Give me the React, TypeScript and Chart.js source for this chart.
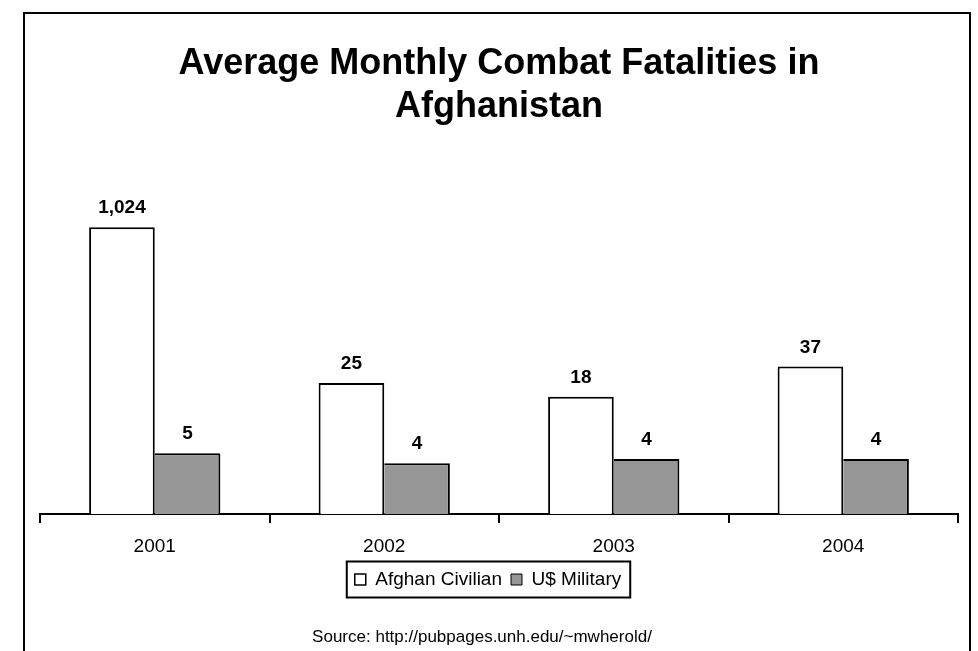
import React, { useEffect, useRef } from 'react';
import { Chart, registerables } from 'chart.js';

Chart.register(...registerables);

const categories = ['2001', '2002', '2003', '2004'];
const civilianValues = [1024, 25, 18, 37];
const militaryValues = [4.67, 3.68, 4.08, 4.08];
const seriesNames = ['Afghan Civilian', 'U$ Military'];
const titleLines = ['Average Monthly Combat Fatalities in', 'Afghanistan'];
const sourceText = 'Source: http://pubpages.unh.edu/~mwherold/';

const FONT = "Arial, 'Liberation Sans', Helvetica, sans-serif";

const valueLabels = {
  id: 'valueLabels',
  afterDatasetsDraw(chart: any) {
    const ctx = chart.ctx;
    ctx.save();
    ctx.font = `bold 19px ${FONT}`;
    ctx.fillStyle = '#000';
    ctx.textAlign = 'center';
    ctx.textBaseline = 'alphabetic';
    chart.data.datasets.forEach((ds: any, di: number) => {
      const meta = chart.getDatasetMeta(di);
      meta.data.forEach((el: any, i: number) => {
        const v = ds.data[i] as number;
        ctx.fillText(Math.round(v).toLocaleString('en-US'), el.x, el.y - 14);
      });
    });
    ctx.restore();
  },
};

const boxAdjust = {
  id: 'boxAdjust',
  afterLayout(chart: any, _args: any, opts: any) {
    const lg = chart.legend;
    if (lg) {
      lg.left += opts.legendDx;
      lg.right += opts.legendDx;
    }
    chart.boxes.forEach((b: any) => {
      if (b !== lg && b.options && b.options.text === sourceText) {
        b.left += opts.sourceDx;
        b.right += opts.sourceDx;
      }
    });
  },
  afterDraw(chart: any) {
    const lg = chart.legend;
    if (!lg || !lg.legendHitBoxes || !lg.legendHitBoxes.length) return;
    const hb = lg.legendHitBoxes;
    const first = hb[0];
    const last = hb[hb.length - 1];
    const cy = first.top + first.height / 2;
    const x0 = first.left - 8;
    const x1 = last.left + last.width + 9;
    const ctx = chart.ctx;
    ctx.save();
    ctx.strokeStyle = '#000';
    ctx.lineWidth = 2;
    ctx.strokeRect(x0, cy - 18, x1 - x0, 36);
    ctx.restore();
  },
};

export default function App() {
  const ref = useRef<HTMLCanvasElement>(null);

  useEffect(() => {
    if (!ref.current) return;
    const chart = new Chart(ref.current, {
      type: 'bar',
      data: {
        labels: categories,
        datasets: [
          {
            label: seriesNames[0],
            data: civilianValues,
            backgroundColor: '#ffffff',
            borderColor: '#000000',
            borderWidth: { top: 2, left: 2, right: 2, bottom: 0 } as any,
            categoryPercentage: 0.572,
            barPercentage: 1,
          },
          {
            label: seriesNames[1],
            data: militaryValues,
            backgroundColor: '#969696',
            borderColor: '#000000',
            borderWidth: { top: 2, left: 0, right: 2, bottom: 0 } as any,
            categoryPercentage: 0.572,
            barPercentage: 1,
          },
        ],
      },
      plugins: [valueLabels, boxAdjust],
      options: {
        responsive: true,
        maintainAspectRatio: false,
        animation: false,
        events: [],
        layout: { padding: { left: 40, right: 20, top: 0, bottom: 0 } },
        scales: {
          x: {
            type: 'category',
            offset: true,
            grid: {
              display: true,
              drawOnChartArea: false,
              drawTicks: true,
              tickLength: 9,
              color: '#000',
              lineWidth: 2,
              offset: true,
            },
            border: { display: true, color: '#000', width: 2 },
            ticks: {
              color: '#000',
              font: { size: 19, family: FONT },
              padding: 12,
              maxRotation: 0,
            },
            afterFit: (s: any) => {
              s.height = 47;
            },
          },
          y: {
            type: 'logarithmic',
            min: 1.1,
            max: 8200,
            display: false,
          },
        },
        plugins: {
          tooltip: { enabled: false },
          title: {
            display: true,
            text: titleLines,
            color: '#000',
            font: { size: 36, weight: 'bold', family: FONT, lineHeight: 1.2 },
            padding: { top: 42, bottom: 11.6 },
          },
          subtitle: {
            display: true,
            text: sourceText,
            position: 'bottom',
            color: '#000',
            font: { size: 17, weight: 'normal', family: FONT, lineHeight: 1.2 },
            padding: { top: 27.8, bottom: 3.8 },
          },
          legend: {
            display: true,
            position: 'bottom',
            labels: {
              color: '#000',
              font: { size: 19, family: FONT },
              boxWidth: 11,
              boxHeight: 11,
              padding: 9,
            },
          },
          boxAdjust: { legendDx: -11, sourceDx: -17 },
        } as any,
      },
    });
    return () => chart.destroy();
  }, []);

  return (
    <div
      style={{
        position: 'fixed',
        left: 0,
        top: 0,
        width: 978,
        height: 651,
        overflow: 'hidden',
        background: '#fff',
      }}
    >
      <div
        style={{
          position: 'absolute',
          left: 23,
          top: 12,
          width: 948,
          height: 720,
          border: '2px solid #000',
          boxSizing: 'border-box',
        }}
      />
      <div style={{ position: 'absolute', left: 0, top: 0, width: 978, height: 651 }}>
        <canvas ref={ref} />
      </div>
    </div>
  );
}
